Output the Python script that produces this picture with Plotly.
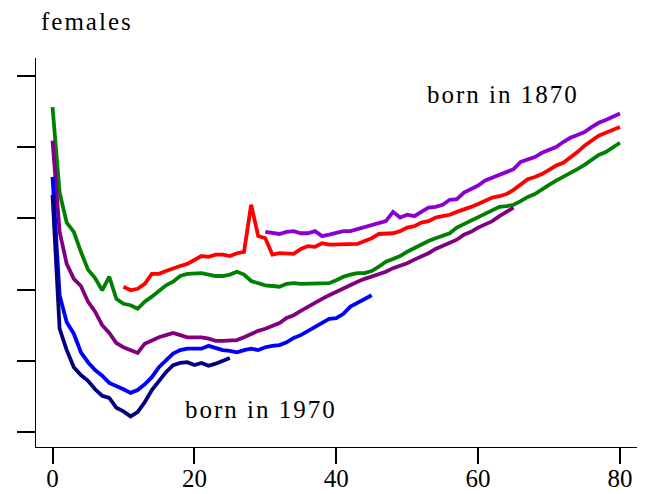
import plotly.graph_objects as go

# Ages and log-mortality values (y axis in tick units, ticks unlabelled)
ages_navy = list(range(0, 26))
navy = [3.33, 1.45, 1.15, 0.91, 0.80, 0.72, 0.60, 0.51, 0.48, 0.34, 0.29, 0.22, 0.28,
        0.42, 0.59, 0.72, 0.84, 0.94, 0.97, 0.98, 0.94, 0.97, 0.93, 0.96, 1.00, 1.04]

ages_blue = list(range(0, 46))
blue = [3.58, 1.92, 1.54, 1.38, 1.12, 0.98, 0.87, 0.79, 0.69, 0.65, 0.60, 0.55, 0.59,
        0.67, 0.77, 0.91, 1.00, 1.10, 1.15, 1.17, 1.17, 1.17, 1.21, 1.18, 1.15, 1.14,
        1.12, 1.15, 1.17, 1.15, 1.19, 1.21, 1.22, 1.26, 1.32, 1.36, 1.42, 1.47, 1.54,
        1.59, 1.60, 1.66, 1.76, 1.81, 1.87, 1.92]

ages_purple = list(range(0, 66))
purple = [4.09, 2.81, 2.36, 2.15, 2.05, 1.83, 1.69, 1.50, 1.39, 1.25, 1.19, 1.15, 1.11,
          1.24, 1.29, 1.33, 1.36, 1.39, 1.36, 1.33, 1.33, 1.33, 1.31, 1.28, 1.28, 1.28,
          1.29, 1.33, 1.38, 1.42, 1.45, 1.49, 1.53, 1.60, 1.64, 1.70, 1.76, 1.81, 1.87,
          1.92, 1.97, 2.01, 2.06, 2.11, 2.15, 2.18, 2.21, 2.25, 2.30, 2.33, 2.37, 2.42,
          2.46, 2.51, 2.57, 2.61, 2.65, 2.70, 2.77, 2.81, 2.87, 2.92, 2.96, 3.03, 3.09, 3.15]

ages_green = list(range(0, 81))
green = [4.56, 3.36, 2.94, 2.81, 2.53, 2.28, 2.16, 1.99, 2.18, 1.87, 1.80, 1.78, 1.73,
         1.83, 1.90, 1.98, 2.06, 2.11, 2.19, 2.22, 2.23, 2.23, 2.21, 2.19, 2.19, 2.21,
         2.25, 2.21, 2.12, 2.09, 2.06, 2.05, 2.04, 2.08, 2.09, 2.08, 2.08, 2.08, 2.09,
         2.09, 2.13, 2.18, 2.21, 2.23, 2.23, 2.26, 2.32, 2.39, 2.43, 2.47, 2.53, 2.58,
         2.64, 2.68, 2.72, 2.75, 2.79, 2.87, 2.92, 2.96, 3.02, 3.06, 3.12, 3.16, 3.17,
         3.19, 3.24, 3.30, 3.34, 3.41, 3.47, 3.53, 3.58, 3.64, 3.69, 3.75, 3.82, 3.89,
         3.93, 4.00, 4.06]

ages_red = list(range(10, 81))
red = [2.04, 1.99, 2.01, 2.08, 2.22, 2.22, 2.26, 2.30, 2.33, 2.36, 2.42, 2.47, 2.46,
       2.49, 2.49, 2.47, 2.51, 2.53, 3.19, 2.75, 2.72, 2.49, 2.51, 2.51, 2.50, 2.57,
       2.61, 2.60, 2.65, 2.63, 2.63, 2.64, 2.63, 2.64, 2.68, 2.72, 2.78, 2.79, 2.79,
       2.82, 2.87, 2.89, 2.94, 2.96, 3.01, 3.03, 3.05, 3.09, 3.12, 3.16, 3.20, 3.24,
       3.29, 3.31, 3.34, 3.40, 3.48, 3.55, 3.58, 3.62, 3.68, 3.74, 3.78, 3.85, 3.93,
       4.02, 4.09, 4.16, 4.20, 4.24, 4.28]

ages_violet = list(range(30, 81))
violet = [2.81, 2.79, 2.78, 2.81, 2.82, 2.79, 2.79, 2.82, 2.75, 2.77, 2.79, 2.82, 2.82,
          2.85, 2.88, 2.91, 2.94, 2.96, 3.09, 3.01, 3.05, 3.03, 3.09, 3.15, 3.16, 3.19,
          3.26, 3.27, 3.36, 3.41, 3.46, 3.53, 3.57, 3.61, 3.65, 3.69, 3.79, 3.82, 3.86,
          3.92, 3.96, 4.00, 4.07, 4.13, 4.17, 4.21, 4.28, 4.34, 4.38, 4.42, 4.47]

x_ticks = [0, 20, 40, 60, 80]
x_tick_labels = ["0", "20", "40", "60", "80"]
y_ticks = [0, 1, 2, 3, 4, 5]

series = [
    (ages_violet, violet, "#8a00d0"),
    (ages_red, red, "#ff0000"),
    (ages_green, green, "#008000"),
    (ages_purple, purple, "#800080"),
    (ages_blue, blue, "#0000ff"),
    (ages_navy, navy, "#000080"),
]

FONT = "Liberation Serif"

fig = go.Figure()
for xs, ys, col in series:
    fig.add_trace(go.Scatter(x=xs, y=ys, mode="lines",
                             line=dict(color=col, width=3.8),
                             showlegend=False, hoverinfo="skip"))

def sp(t):
    return '<span style="letter-spacing:2px">' + t + '</span>'

fig.add_annotation(text=sp("females"), xref="paper", yref="paper",
                   x=0.005, y=1.095, xanchor="left", yanchor="middle",
                   showarrow=False, font=dict(family=FONT, size=25, color="black"))
fig.add_annotation(text=sp("born in 1870"), xref="x", yref="y",
                   x=52.5, y=4.74, xanchor="left", yanchor="middle",
                   showarrow=False, font=dict(family=FONT, size=25, color="black"))
fig.add_annotation(text=sp("born in 1970"), xref="x", yref="y",
                   x=18.4, y=0.32, xanchor="left", yanchor="middle",
                   showarrow=False, font=dict(family=FONT, size=25, color="black"))

fig.update_layout(
    width=640, height=486,
    margin=dict(l=28, r=11, t=50, b=47, autoexpand=False),
    paper_bgcolor="white", plot_bgcolor="white",
    font=dict(family=FONT, size=25, color="black"),
    xaxis=dict(range=[-2.33, 82.4], tickvals=x_ticks, ticktext=x_tick_labels,
               automargin=False, ticklabelstandoff=-7,
               showgrid=False, zeroline=False, showline=True, linecolor="black",
               linewidth=1.4, ticks="outside", ticklen=16, tickwidth=1.6,
               tickcolor="black", tickfont=dict(family=FONT, size=25, color="black")),
    yaxis=dict(range=[-0.21, 5.25], tickvals=y_ticks, showticklabels=False,
               automargin=False,
               showgrid=False, zeroline=False, showline=True, linecolor="black",
               linewidth=1.4, ticks="outside", ticklen=18, tickwidth=1.6,
               tickcolor="black"),
)

fig.write_html("out.html")
